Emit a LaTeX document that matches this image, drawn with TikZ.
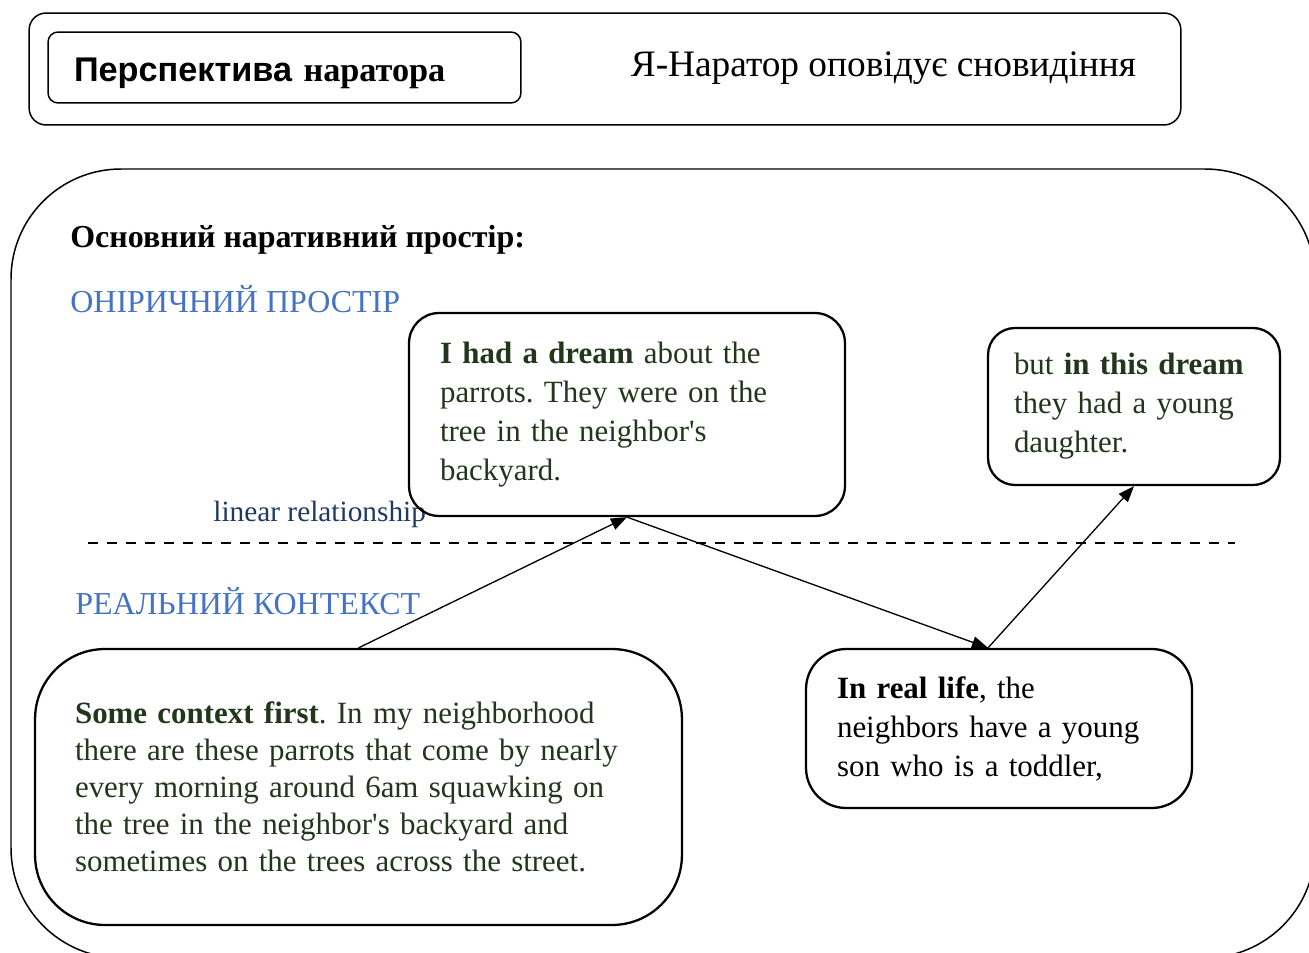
\documentclass[tikz,border=0pt]{standalone}
\usepackage{fontspec}
\setmainfont{Liberation Serif}
\newfontfamily\headsans{Liberation Sans}
\usetikzlibrary{arrows.meta}
\definecolor{dreamTxt}{HTML}{22361C}
\definecolor{spaceCol}{HTML}{4472C4}
\definecolor{linkCol}{HTML}{1F3864}
\newcommand{\txtsize}{\fontsize{17.6pt}{22.2pt}\selectfont\frenchspacing}
\newcommand{\ctxsize}{\fontsize{17.6pt}{21.05pt}\selectfont\frenchspacing}
\newcommand{\headsize}{\fontsize{21.25pt}{25pt}\selectfont}
\newcommand{\lblsize}{\fontsize{16.7pt}{20pt}\selectfont}
\tikzset{
  frame/.style={draw, line width=0.85pt},
  bubble/.style={draw, line width=1.3pt, inner sep=0pt, align=left, font=\txtsize, text=dreamTxt}, % story fragment
  zone/.style={anchor=west, inner sep=0pt, font=\fontsize{18.2pt}{22pt}\selectfont, text=spaceCol}, % space caption
  link/.style={-{Triangle[length=0.32cm,width=0.24cm]}, line width=0.75pt},
  divider/.style={dash pattern=on 0.2cm off 0.18cm, line width=1.1pt},
}
\begin{document}
\begin{tikzpicture}[x=0.02cm, y=-0.02cm]
  \useasboundingbox (0,0) rectangle (1309,953);

  % narrator strip
  \node[frame, rounded corners=0.34cm, minimum width=23.04cm, minimum height=2.24cm] (narr) at (605,69) {};
  \node[frame, rounded corners=0.2cm, minimum width=9.46cm, minimum height=1.42cm, inner sep=0pt,
        text width=8.42cm, align=left, font=\fontsize{19.5pt}{23pt}\selectfont\bfseries] (persp) at (284.5,67.5)
        {\raisebox{-3.4pt}[\height][\depth]{{\headsans Перспектива} наратора}};
  \node[font=\headsize, inner sep=0pt] (tell) at (883.5,68) {Я-Наратор оповідує сновидіння};

  % main narrative space
  \begin{scope}
    \clip (0,0) rectangle (1309,953);
    \draw[frame, rounded corners=2.2cm] (11,169) rectangle (1315,958);
  \end{scope}
  \node[anchor=west, inner sep=0pt, font=\fontsize{18.2pt}{22pt}\selectfont\bfseries] (mainlbl) at (70,240) {Основний наративний простір:};
  \node[zone] (oneiric) at (70,299) {ОНІРИЧНИЙ ПРОСТІР};
  \node[zone] (reallbl) at (75,601) {РЕАЛЬНИЙ КОНТЕКСТ};
  \node[anchor=west, inner sep=0pt, font=\lblsize, text=linkCol] (linklbl) at (213,514) {linear relationship};
  \draw[divider] (88,543) -- (1235,543);

  \node[bubble, rounded corners=0.6cm, minimum width=8.72cm, minimum height=4.06cm, text width=7.48cm] (dream) at (627,414.5)
    {\textbf{I had a dream} about the\\ parrots. They were on the\\ tree in the neighbor\textquotesingle s\\ backyard.};
  \node[bubble, rounded corners=0.54cm, minimum width=5.84cm, minimum height=3.14cm, text width=4.8cm] (daughter) at (1134,406.5)
    {but \textbf{in this dream}\\ they had a young\\ daughter.};
  \node[bubble, text=black, rounded corners=0.8cm, minimum width=7.72cm, minimum height=3.18cm, text width=6.48cm] (reallife) at (999,728.5)
    {\textbf{In real life}, the\\ neighbors have a young\\ son who is a toddler,};
  \node[bubble, font=\ctxsize, rounded corners=1.4cm, minimum width=12.94cm, minimum height=5.52cm, text width=11.34cm] (context) at (358.5,787)
    {\textbf{Some context first}. In my neighborhood\\ there are these parrots that come by nearly\\ every morning around 6am squawking on\\ the tree in the neighbor\textquotesingle s backyard and\\ sometimes on the trees across the street.};

  \draw[link] (context.north) -- (dream.south);
  \draw[link] (dream.south) -- ([xshift=-0.22cm]reallife.north);
  \draw[link] ([xshift=-0.22cm]reallife.north) -- (daughter.south);
\end{tikzpicture}
\end{document}
